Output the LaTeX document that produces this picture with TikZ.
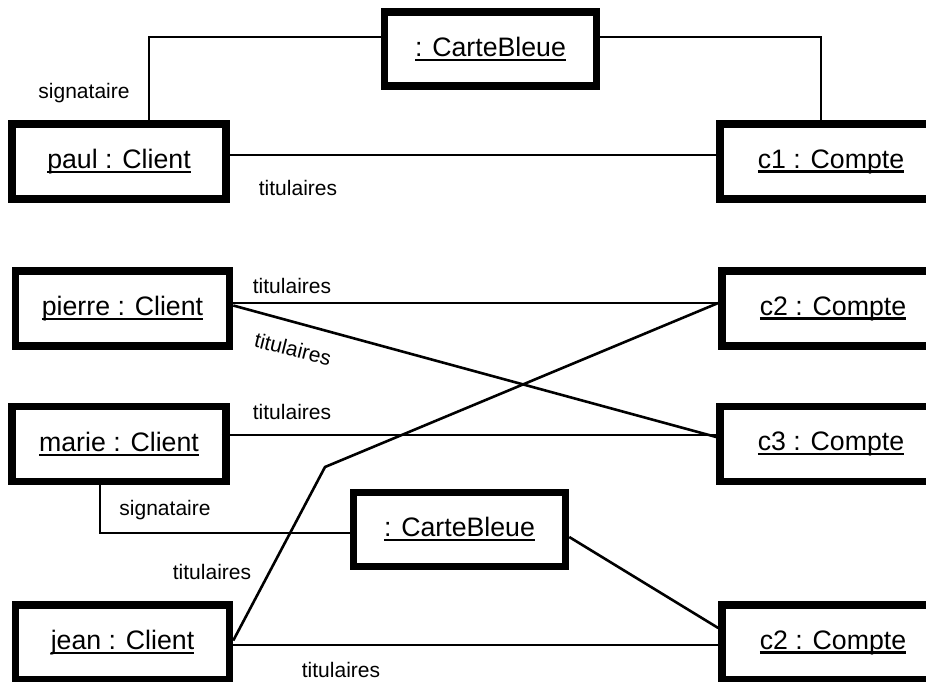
\documentclass[tikz,border=0pt]{standalone}
\usepackage{fontspec}
\setmainfont{Liberation Sans}
\usepackage{tikz}

\newcommand{\souligne}[1]{\setbox0\hbox{#1}\rlap{\rule[-4.5pt]{\wd0}{2.2pt}}\box0}

\begin{document}
\begin{tikzpicture}[x=1pt, y=-1pt]

% Defined styles
\tikzstyle{objet} = [rectangle, draw=black, line width=7.5pt, minimum width=214pt, minimum height=75pt, inner sep=0pt, font=\fontsize{26.7}{30}\selectfont]
\tikzstyle{compte} = [objet, minimum width=222pt]
\tikzstyle{carte} = [objet, minimum width=212pt, minimum height=74pt]
\tikzstyle{lien} = [line width=2pt]
\tikzstyle{diag} = [line width=2.6pt]
\tikzstyle{role} = [inner sep=0pt, font=\fontsize{21}{24}\selectfont]

\useasboundingbox (0,0) rectangle (926,682);
\clip (0,0) rectangle (926,682);

% --- Carte bleue de paul ---
\node (cb1) [carte] at (490.5,49) {\souligne{: CarteBleue}};
\node (paul) [objet] at (119,161.5) {\souligne{paul : Client}};
\node (c1) [compte] at (831,161.5) {\souligne{c1 : Compte}};

% --- Clients et comptes ---
\node (pierre) [objet] at (122.5,308.5) {\souligne{pierre : Client}};
\node (c2a) [compte] at (833,308.5) {\souligne{c2 : Compte}};
\node (marie) [objet] at (119,444) {\souligne{marie : Client}};
\node (c3) [compte] at (831,444) {\souligne{c3 : Compte}};
\node (cb2) [carte] at (459.5,529.5) {\souligne{: CarteBleue}};
\node (jean) [objet] at (122.5,642.5) {\souligne{jean : Client}};
\node (c2b) [compte] at (833,642.5) {\souligne{c2 : Compte}};

\coordinate (coude) at (325,467);

% --- Liens ---
\draw [lien] ([yshift=12pt]cb1.west) -| ([xshift=30pt]paul.north);
\draw [lien] ([yshift=12pt]cb1.east) -| ([xshift=-10pt]c1.north);
\draw [lien] ([yshift=6.5pt]paul.east) -- ([yshift=6.5pt]c1.west);
\draw [lien] ([yshift=5.5pt]pierre.east) -- ([yshift=5.5pt]c2a.west);
\draw [diag] ([yshift=3pt]pierre.east) -- ([yshift=7pt]c3.west);
\draw [lien] ([yshift=9pt,xshift=-8pt]marie.east) -- ([yshift=9pt]c3.west);
\draw [diag] ([yshift=2pt]jean.east) -- (coude) -- ([yshift=5.5pt]c2a.west);
\draw [lien] ([yshift=-2.5pt]jean.east) -- ([yshift=-2.5pt]c2b.west);
\draw [lien] ([xshift=-19pt]marie.south) |- ([yshift=-3.5pt]cb2.west);
\draw [diag] ([yshift=-7.5pt]cb2.east) -- ([yshift=14.5pt]c2b.west);

% --- Roles ---
\node (r1) [role] at (84,93) {signataire};
\node (r2) [role] at (298,188) {titulaires};
\node (r3) [role] at (292,286) {titulaires};
\node (r4) [role, rotate=-14] at (293,349) {titulaires};
\node (r5) [role] at (292,412) {titulaires};
\node (r6) [role] at (165,510) {signataire};
\node (r7) [role] at (212,572) {titulaires};
\node (r8) [role] at (341,670) {titulaires};

\end{tikzpicture}
\end{document}
